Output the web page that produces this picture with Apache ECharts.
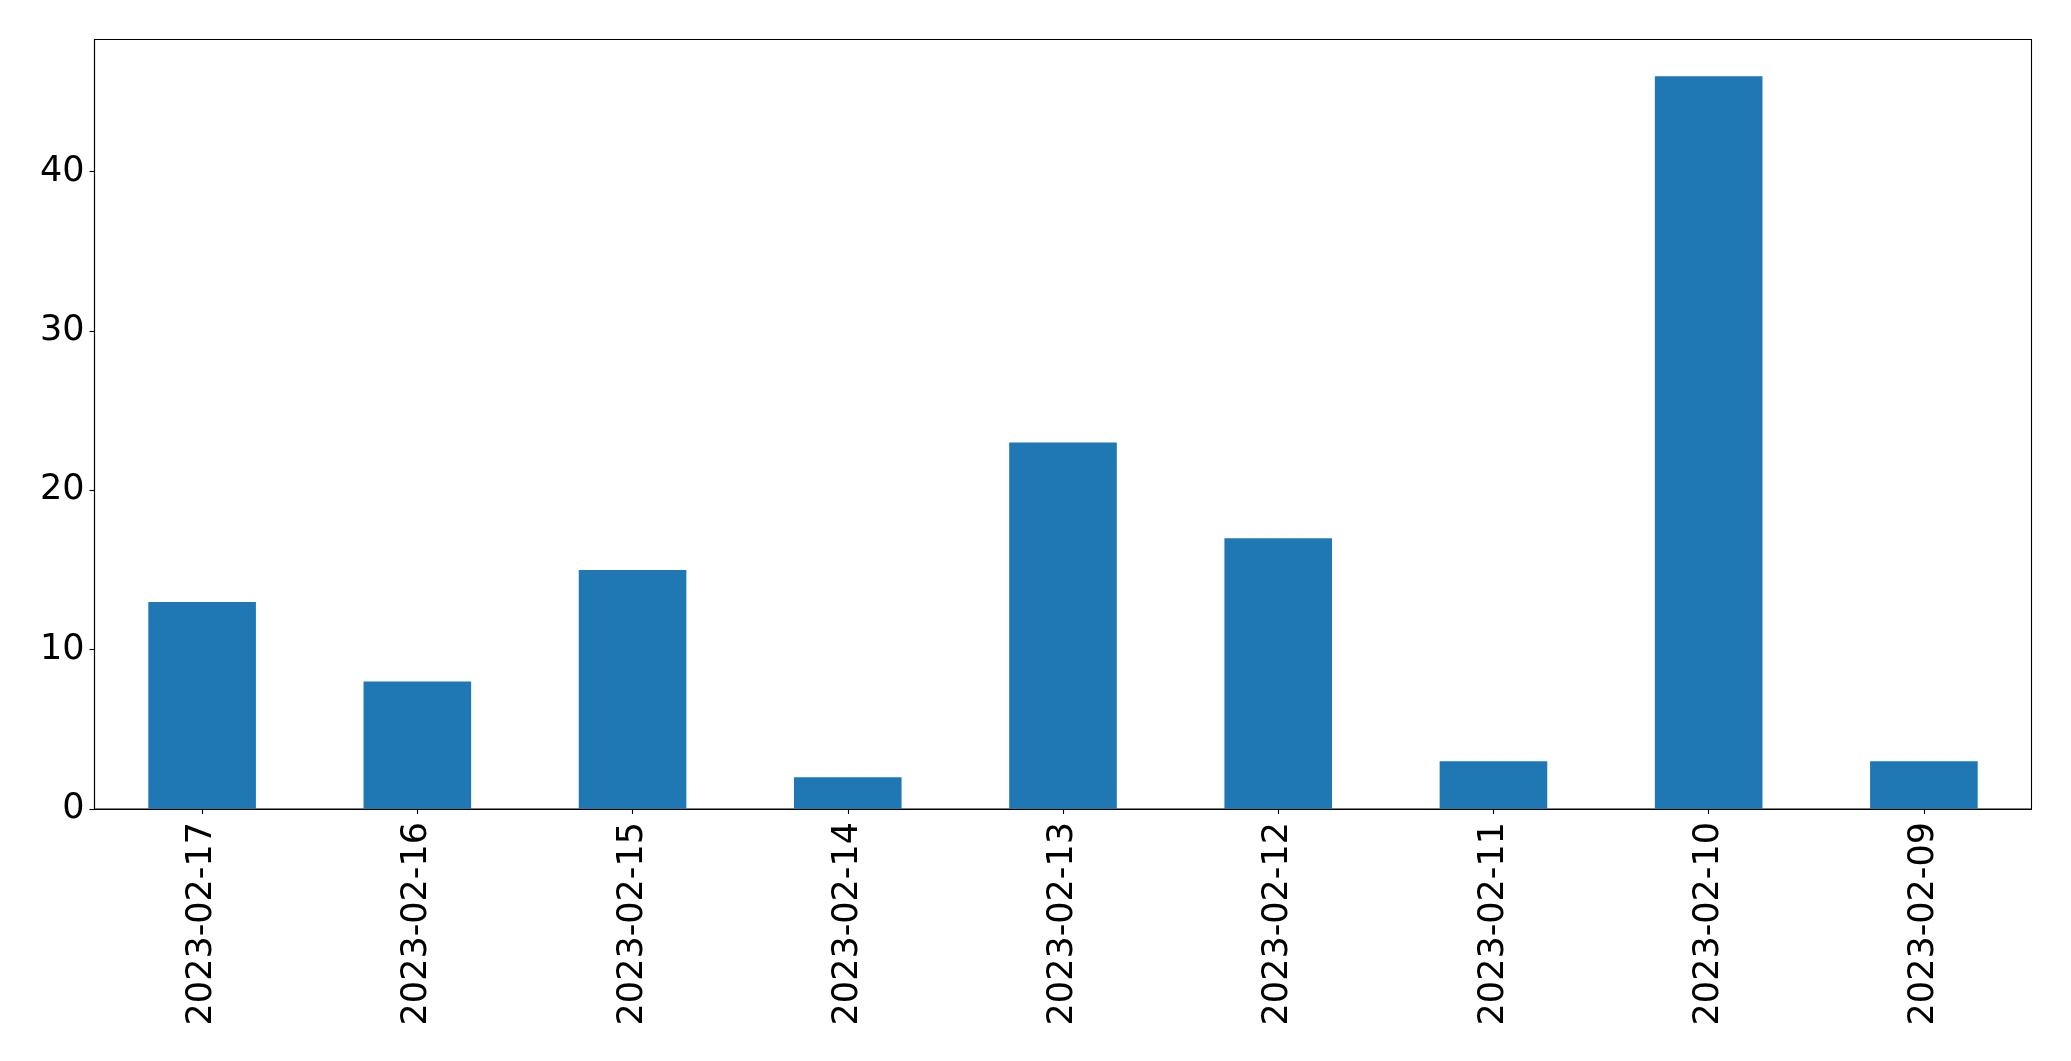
<!DOCTYPE html>
<html>
<head>
<meta charset="utf-8">
<script src="https://cdn.jsdelivr.net/npm/echarts@6/dist/echarts.min.js"></script>
<style>
html,body{margin:0;padding:0;background:#fff;}
#c{width:2071px;height:1061px;}
</style>
</head>
<body>
<div id="c"></div>
<script>
const categories = ['2023-02-17','2023-02-16','2023-02-15','2023-02-14','2023-02-13','2023-02-12','2023-02-11','2023-02-10','2023-02-09'];
const values = [13, 8, 15, 2, 23, 17, 3, 46, 3];
const yTicks = [0, 10, 20, 30, 40];

const chart = echarts.init(document.getElementById('c'), null, {renderer:'canvas'});
const font = 'DejaVu Sans';
chart.setOption({
  animation: false,
  backgroundColor: '#ffffff',
  grid: {
    left: 94.5, right: 39.5, top: 39.5, bottom: 252,
    show: true, borderColor: '#000', borderWidth: 1.1, backgroundColor: 'transparent'
  },
  xAxis: {
    type: 'category',
    data: categories,
    boundaryGap: true,
    axisLine: {show: true, lineStyle: {color: '#000', width: 1.1}},
    axisTick: {show: true, alignWithLabel: true, length: 5, lineStyle: {color: '#000', width: 1.1}},
    axisLabel: {rotate: 90, interval: 0, margin: 13, fontFamily: font, fontSize: 35, color: '#000'},
    splitLine: {show: false}
  },
  yAxis: {
    type: 'value',
    min: 0, max: 48.3, interval: 10,
    axisLine: {show: true, lineStyle: {color: '#000', width: 1.1}},
    axisTick: {show: true, length: 5, customValues: yTicks, lineStyle: {color: '#000', width: 1.1}},
    axisLabel: {margin: 10, fontFamily: font, fontSize: 35, color: '#000', customValues: yTicks, padding: [5, 0, 0, 0]},
    splitLine: {show: false}
  },
  series: [{
    type: 'bar',
    data: values,
    barWidth: '50%',
    itemStyle: {color: '#1f77b4'}
  }]
});
</script>
</body>
</html>
